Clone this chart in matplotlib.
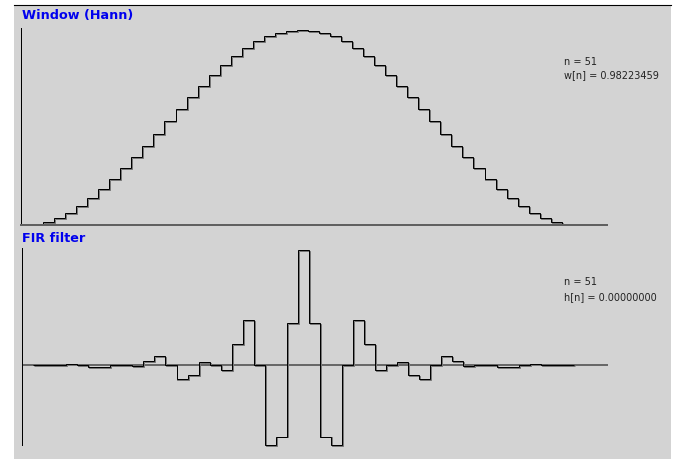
import matplotlib
matplotlib.use("Agg")
import matplotlib.pyplot as plt
import matplotlib.patheffects as pe
from matplotlib.patches import Rectangle
from matplotlib.lines import Line2D
import numpy as np

# ---- data ----
window_values = [0.004, 0.016, 0.035, 0.062, 0.095, 0.136, 0.183, 0.234, 0.290, 0.348,
                 0.406, 0.467, 0.535, 0.596, 0.655, 0.715, 0.768, 0.820, 0.866, 0.906,
                 0.942, 0.970, 0.985, 0.996, 1.000, 0.996, 0.985, 0.970, 0.942, 0.906,
                 0.866, 0.820, 0.768, 0.715, 0.655, 0.596, 0.535, 0.467, 0.406, 0.348,
                 0.290, 0.234, 0.183, 0.136, 0.095, 0.062, 0.035, 0.016, 0.004]
fir_values = [0.0, 0.0, 0.0, 0.009, 0.0, -0.017, -0.017, 0.0, 0.0, -0.009,
              0.035, 0.078, 0.0, -0.122, -0.087, 0.026, 0.0, -0.043, 0.183, 0.391,
              0.0, -0.696, -0.626, 0.365, 1.000, 0.365, -0.626, -0.696, 0.0, 0.391,
              0.183, -0.043, 0.0, 0.026, -0.087, -0.122, 0.0, 0.078, 0.035, -0.009,
              0.0, 0.0, -0.017, -0.017, 0.0, 0.009, 0.0, 0.0, 0.0]
window_title = "Window (Hann)"
fir_title = "FIR filter"
window_info = ["n = 51", "w[n] = 0.98223459"]
fir_info = ["n = 51", "h[n] = 0.00000000"]

W, H = 676, 459
fig = plt.figure(figsize=(W / 100, H / 100), dpi=100, facecolor="white")

def fx(px):
    return px / W

def fy(py):
    return 1 - py / H

# grey panel background
fig.patches.append(Rectangle((fx(14), 0), fx(671) - fx(14), fy(5.5), transform=fig.transFigure,
                             facecolor="#d3d3d3", edgecolor="none", zorder=-10))
fig.lines.append(Line2D([fx(14), fx(671)], [fy(5), fy(5)], transform=fig.transFigure,
                        color="black", lw=0.8, zorder=-5))

px = 0.72  # one pixel in points
shadow = [pe.SimpleLineShadow(offset=(0.7, -0.7), shadow_color="#777777", alpha=1.0), pe.Normal()]

edges = np.arange(len(window_values) + 1)

# ---- top panel: window ----
ax1 = fig.add_axes([fx(21), fy(225), fx(607) - fx(21), (225 - 28) / H])
ax1.set_facecolor("none")
ax1.set_zorder(5)
ax1.stairs(window_values, edges, baseline=0, color="black", lw=px, path_effects=shadow)
ax1.set_xlim(-1, 52.1)
ax1.set_ylim(0, 1.01)
ax1.set_xticks([]); ax1.set_yticks([])
for s in ["top", "right"]:
    ax1.spines[s].set_visible(False)
ax1.spines["left"].set_color("black"); ax1.spines["left"].set_linewidth(px)
ax1.spines["bottom"].set_color("#606060"); ax1.spines["bottom"].set_linewidth(2 * px)

# ---- bottom panel: FIR ----
ax2 = fig.add_axes([fx(22), fy(445), fx(608) - fx(22), (445 - 248) / H])
ax2.set_facecolor("none")
ax2.set_zorder(5)
ax2.axhline(0, color="#454545", lw=1.5 * px, zorder=1)
ax2.stairs(fir_values, edges, baseline=0, color="black", lw=px, path_effects=shadow, zorder=2,
           clip_on=False)
ax2.set_xlim(-1, 52.1)
ax2.set_ylim(-0.70, 1.017)
ax2.set_xticks([]); ax2.set_yticks([])
for s in ["top", "right", "bottom"]:
    ax2.spines[s].set_visible(False)
ax2.spines["left"].set_color("black"); ax2.spines["left"].set_linewidth(px)

# ---- texts ----
fig.text(fx(22), fy(15), window_title, color="#0000ee", fontsize=9.2, fontweight="bold",
         ha="left", va="center", family="DejaVu Sans")
fig.text(fx(22), fy(238), fir_title, color="#0000ee", fontsize=9.2, fontweight="bold",
         ha="left", va="center", family="DejaVu Sans")
for txt, yy in zip(window_info, [62, 75]):
    fig.text(fx(564), fy(yy), txt, color="#222222", fontsize=7, ha="left", va="center",
             family="DejaVu Sans")
for txt, yy in zip(fir_info, [282, 297]):
    fig.text(fx(564), fy(yy), txt, color="#222222", fontsize=7, ha="left", va="center",
             family="DejaVu Sans")

fig.savefig("out.png", dpi=100, facecolor="white")
